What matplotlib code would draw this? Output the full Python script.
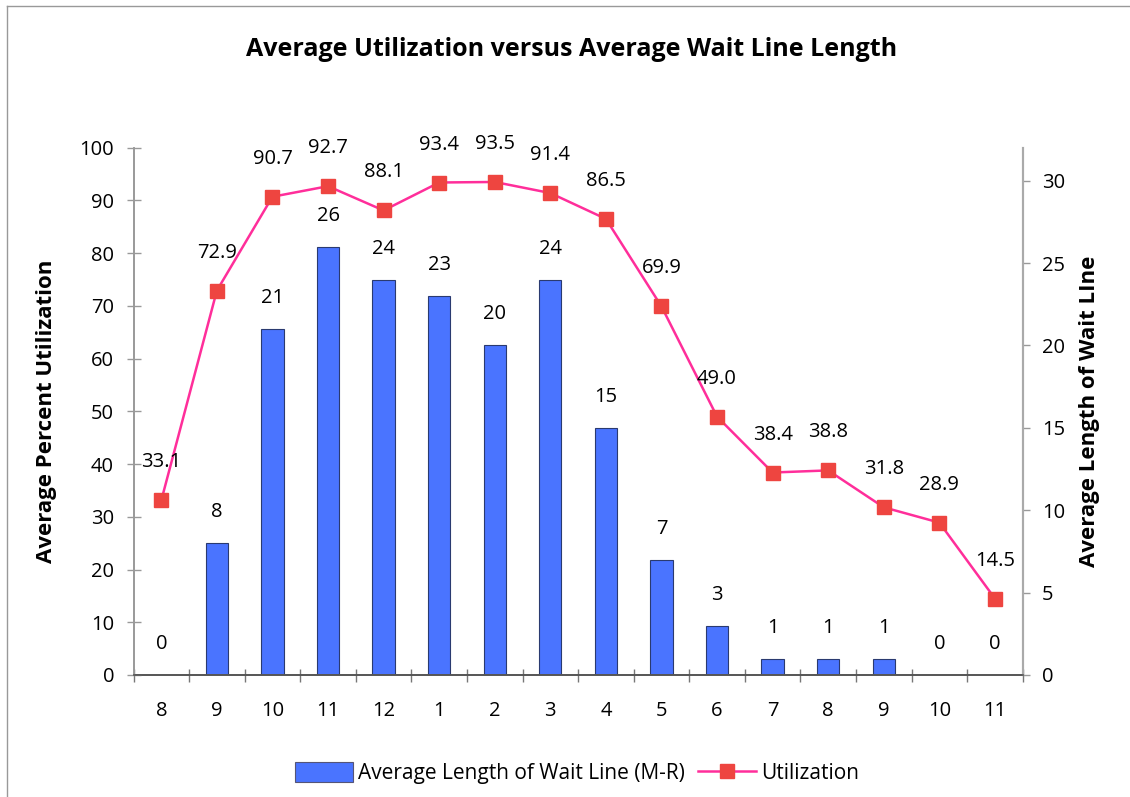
import matplotlib
matplotlib.use("Agg")
import matplotlib.pyplot as plt
import numpy as np
from matplotlib.lines import Line2D
from matplotlib.patches import Patch

plt.rcParams['font.family'] = ['Open Sans', 'DejaVu Sans']

categories = ["8", "9", "10", "11", "12", "1", "2", "3", "4", "5", "6", "7", "8", "9", "10", "11"]
wait_line = [0, 8, 21, 26, 24, 23, 20, 24, 15, 7, 3, 1, 1, 1, 0, 0]
utilization = [33.1, 72.9, 90.7, 92.7, 88.1, 93.4, 93.5, 91.4, 86.5, 69.9, 49.0, 38.4, 38.8, 31.8, 28.9, 14.5]

W, H, DPI = 1130, 797, 100
fig = plt.figure(figsize=(W / DPI, H / DPI), dpi=DPI)
PX = 72.0 / DPI

ax = fig.add_axes([133.5 / W, 1 - 675 / H, (1022.7 - 133.5) / W, (675 - 147.7) / H])
ax2 = ax.twinx()

x = np.arange(len(categories))
bar_color = "#4A74FF"
line_color = "#FF2E9A"
marker_color = "#EE4540"
ax.bar(x, wait_line, width=0.4, color=bar_color, edgecolor="#2a3a70", linewidth=0.8, zorder=2)
ax.set_ylim(0, 32)
ax.set_xlim(-0.5, len(categories) - 0.5)

ax2.plot(x, utilization, color=line_color, linewidth=1.8, marker="s", markersize=9.5,
         markerfacecolor=marker_color, markeredgecolor=marker_color, zorder=3)
ax2.set_ylim(0, 100)

# bars on right axis, utilization on left
ax.yaxis.tick_right()
ax.yaxis.set_label_position("right")
ax2.yaxis.tick_left()
ax2.yaxis.set_label_position("left")

ax.set_yticks(np.arange(0, 31, 5))
ax2.set_yticks(np.arange(0, 101, 10))

fs = 14.5
ax.tick_params(axis='y', which='both', direction='out', length=7 * PX, width=1,
               color="#999999", labelsize=fs, pad=9)
ax2.tick_params(axis='y', which='both', direction='inout', length=14 * PX, width=1,
                color="#999999", labelsize=fs, pad=9)

ax.set_xticks(np.arange(-0.5, len(categories), 1))
ax.set_xticklabels([])
ax.set_xticks(x, minor=True)
ax.set_xticklabels(categories, minor=True)
ax.tick_params(axis='x', which='major', direction='inout', length=13 * PX, width=1, color="#777777")
ax.tick_params(axis='x', which='minor', length=0, labelsize=fs, pad=19)
ax2.tick_params(axis='x', which='both', length=0)

for a in (ax, ax2):
    a.spines['top'].set_visible(False)
    a.spines['left'].set_color("#999999")
    a.spines['right'].set_color("#aaaaaa")
    a.spines['bottom'].set_color("#555555")
    a.spines['left'].set_linewidth(1.2)
    a.spines['right'].set_linewidth(1.5)
    a.spines['bottom'].set_linewidth(1.2)
    a.patch.set_visible(False)

ax2.set_ylabel("Average Percent Utilization", fontsize=16, fontweight='bold', labelpad=16)
ax.set_ylabel("Average Length of Wait LIne", fontsize=16, fontweight='bold', labelpad=10)

# data labels
for i, v in enumerate(wait_line):
    ax2.annotate(f"{v}", xy=(x[i], v * 100 / 32), xytext=(0, 31 * PX),
                 textcoords='offset points', ha='center', va='center', fontsize=fs, zorder=5)
for i, v in enumerate(utilization):
    ax2.annotate(f"{v:.1f}", xy=(x[i], v), xytext=(0, 38 * PX),
                 textcoords='offset points', ha='center', va='center', fontsize=fs, zorder=5)

fig.text(572 / W, 1 - 49 / H, "Average Utilization versus Average Wait Line Length",
         ha='center', va='center', fontsize=18, fontweight='bold')

handles = [Patch(facecolor=bar_color, edgecolor="#555577", linewidth=0.8),
           Line2D([0], [0], color=line_color, linewidth=1.8, marker="s", markersize=9.5,
                  markerfacecolor=marker_color, markeredgecolor=marker_color)]
fig.legend(handles, ["Average Length of Wait Line (M-R)", "Utilization"],
           loc='center', bbox_to_anchor=(577 / W, 1 - 773 / H), ncol=2, frameon=False,
           fontsize=15, handlelength=2.8, handletextpad=0.25, columnspacing=0.6,
           handleheight=1.1)

# outer frame (left and top edges)
fig.add_artist(Line2D([7 / W, 7 / W], [0, 1 - 6 / H], transform=fig.transFigure,
                      color="#999999", linewidth=1))
fig.add_artist(Line2D([7 / W, 1], [1 - 6 / H, 1 - 6 / H], transform=fig.transFigure,
                      color="#999999", linewidth=1))

fig.savefig("out.png", dpi=DPI)
